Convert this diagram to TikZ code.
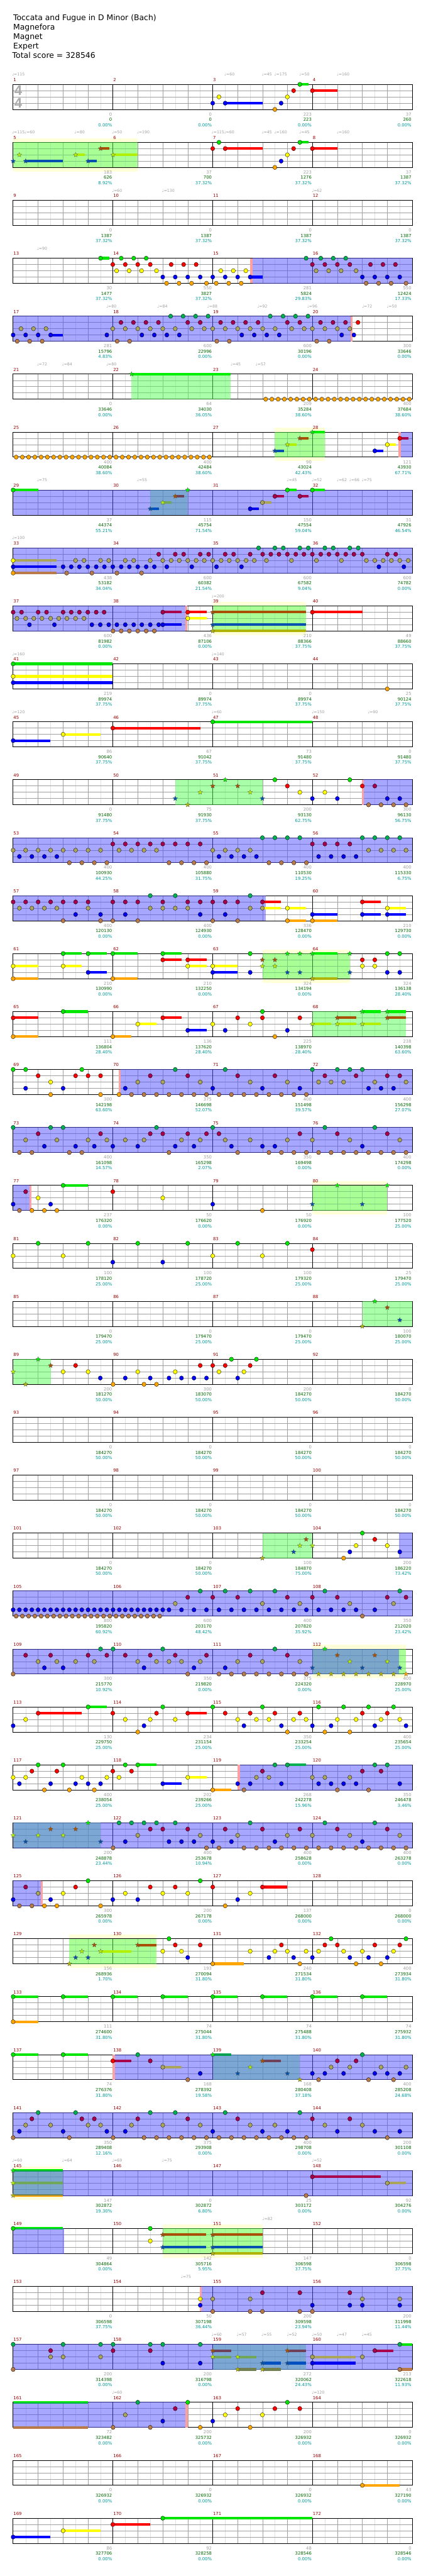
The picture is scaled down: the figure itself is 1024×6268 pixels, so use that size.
\documentclass[tikz,border=0pt]{standalone}
\usepackage{fontspec}
\setmainfont{DejaVu Sans}
\newfontfamily\tsfont{Liberation Sans}
\usetikzlibrary{shapes.geometric}
\definecolor{nG}{HTML}{00E600}\definecolor{nR}{HTML}{FF0000}\definecolor{nY}{HTML}{FFFF00}
\definecolor{nB}{HTML}{0000FF}\definecolor{nO}{HTML}{FFA500}
\definecolor{dG}{HTML}{00B050}\definecolor{dR}{HTML}{A8004C}\definecolor{dY}{HTML}{AAA55A}
\definecolor{dB}{HTML}{0000F0}\definecolor{dO}{HTML}{B87A48}
\definecolor{sG}{HTML}{00F000}\definecolor{sR}{HTML}{A85000}\definecolor{sY}{HTML}{B0F000}
\definecolor{sB}{HTML}{0050B0}\definecolor{sO}{HTML}{B0B400}
\definecolor{kG}{HTML}{00A050}\definecolor{kR}{HTML}{704058}\definecolor{kY}{HTML}{70A858}
\definecolor{kB}{HTML}{0050C0}\definecolor{kO}{HTML}{708050}
\definecolor{spc}{HTML}{55FF55}\definecolor{odc}{HTML}{5050FF}\definecolor{pkc}{HTML}{FFA0A0}
\definecolor{bandc}{HTML}{FFFFD8}\definecolor{mred}{HTML}{990000}\definecolor{sgc}{HTML}{A0A0A0}
\definecolor{snc}{HTML}{006600}\definecolor{spcc}{HTML}{009999}\definecolor{lanec}{HTML}{A0A0A0}
\definecolor{eighc}{HTML}{E0E0E0}\definecolor{tsc}{HTML}{ABABAB}
\tikzset{
 rowat/.style={shift={(0.2614,#1)},x=0.66122pt},
 starn/.style={star,star points=5,star point ratio=2.2,minimum size=12pt,inner sep=0pt,draw=black!65,line width=.4pt},
 mnum/.style={text=mred,font=\fontsize{10.5}{12}\selectfont,anchor=base west,inner sep=0pt},
 tmp/.style={text=sgc,font=\fontsize{9.5}{11}\selectfont,anchor=base west,inner sep=0pt},
 sg/.style={text=sgc,font=\fontsize{10.5}{12}\selectfont,anchor=base east,inner sep=0pt},
 sn/.style={text=snc,font=\fontsize{10.5}{12}\selectfont,anchor=base east,inner sep=0pt},
 spct/.style={text=spcc,font=\fontsize{10.5}{12}\selectfont,anchor=base east,inner sep=0pt},
 ttl/.style={font=\fontsize{19}{22}\selectfont,anchor=base west,inner sep=0pt},
 tsig/.style={text=tsc,font=\tsfont\bfseries\fontsize{34}{34}\selectfont,inner sep=0pt}
}
\newcommand\nt[3]{\foreach \xx in {#3}{\path[fill=#2,draw=black,line width=.5pt] (\xx,{15.25*#1}) ellipse[x radius=5pt,y radius=5.3pt];}}
\newcommand\stt[3]{\foreach \xx in {#3}{\node[starn,fill=#2] at (\xx,{15.25*#1}) {};}}
\newcommand\tlx[4]{\fill[#4] (#2,{15.25*#1-3.2}) rectangle (#3,{15.25*#1+3.2});}
\newcommand\grd{%
 \foreach \ga in {0,...,15}{\draw[eighc,line width=.8pt] ({93.94+91.875*\ga},0) -- ++(0,61);}
 \foreach \gb in {1,...,15}{\draw[lanec,line width=.9pt] ({48+91.875*\gb},0) -- ++(0,61);}
 \foreach \gc in {1,2,3}{\draw[lanec,line width=1pt] (48,{15.25*\gc}) -- (1518,{15.25*\gc});}
 \foreach \gd in {1,2,3}{\draw[black,line width=.9pt] ({48+367.5*\gd},0) -- ++(0,61);}
 \draw[black,line width=1.3pt] (48,0) rectangle (1518,61);}
\newcommand\SPz[2]{\fill[spc,opacity=.5] (#1,0) rectangle (#2,61);}
\newcommand\OD[2]{\fill[odc,opacity=.5] (#1,-.7) rectangle (#2,61.7);}
\newcommand\pk[1]{\fill[pkc] (#1,0) rectangle ({#1+8},61);}
\newcommand\band[2]{\fill[bandc] (#1,-10) rectangle (#2,71);}
\newcommand\mns[1]{\foreach \mi in {0,1,2,3}{\pgfmathtruncatemacro\mm{#1+\mi}\node[mnum] at ({48+367.5*\mi+1},-7.2) {\mm};}}
\newcommand\tp[2]{\node[tmp] at ({#1-4},-20.5) {♩=#2};}
\newcommand\sco[4]{\node[sg] at ({48+367.5*#1-3},76.5) {#2};\node[sn] at ({48+367.5*#1-3},89.8) {#3};\node[spct] at ({48+367.5*#1-3},102.8) {#4\%};}
\begin{document}
\begin{tikzpicture}[x=1pt,y=-1pt]
\useasboundingbox (0,0) rectangle (1024,6268);
\fill[white] (0,0) rectangle (1024,6268);
\node[ttl] at (32,49.3) {Toccata and Fugue in D Minor (Bach)};
\node[ttl] at (32,72) {Magnefora};
\node[ttl] at (32,95.3) {Magnet};
\node[ttl] at (32,118.7) {Expert};
\node[ttl] at (30,141.3) {Total score = 328546};
% row 0
\begin{scope}[rowat=205.3]
\grd
\node[tsig] at (67,15.5) {4};\node[tsig] at (67,45.5) {4};
\tlx{0}{1104}{1137}{nG}\tlx{1}{1150}{1242}{nR}\tlx{3}{829}{966}{nB}
\nt{0}{nG}{1104}\nt{1}{nR}{1081,1150}\nt{2}{nY}{806,1058}\nt{3}{nB}{783,829,1035}\nt{4}{nO}{1012}
\mns{1}
\tp{48}{115}\tp{830}{60}\tp{968}{45}\tp{1014}{175}\tp{1106}{50}\tp{1244}{160}
\sco{1}{0}{0}{0.00}\sco{2}{0}{0}{0.00}\sco{3}{223}{223}{0.00}\sco{4}{37}{260}{0.00}
\end{scope}
% row 1
\begin{scope}[rowat=346.3]
\band{48}{507}\grd\SPz{48}{507}
\tlx{1}{370}{402}{sR}\tlx{2}{278}{311}{sY}\tlx{2}{416}{507}{sY}\tlx{3}{94}{231}{sB}\tlx{3}{324}{356}{sB}
\tlx{0}{1104}{1137}{nG}\tlx{1}{829}{966}{nR}\tlx{1}{1150}{1242}{nR}
\stt{1}{sR}{370}\stt{2}{sY}{71,278,416}\stt{3}{sB}{48,94,324}
\nt{0}{nG}{806,1104}\nt{1}{nR}{783,829,1081,1150}\nt{2}{nY}{1058}\nt{3}{nB}{1035}\nt{4}{nO}{1012}
\mns{5}
\tp{48}{115}\tp{94}{60}\tp{278}{80}\tp{416}{50}\tp{508}{190}\tp{783}{115}\tp{829}{60}\tp{968}{45}\tp{1014}{160}\tp{1106}{45}\tp{1244}{160}
\sco{1}{183}{626}{8.92}\sco{2}{37}{700}{37.32}\sco{3}{223}{1276}{37.32}\sco{4}{37}{1387}{37.32}
\end{scope}
% row 2
\begin{scope}[rowat=487.3]
\grd\mns{9}
\tp{416}{60}\tp{600}{130}\tp{1152}{62}
\sco{1}{0}{1387}{37.32}\sco{2}{0}{1387}{37.32}\sco{3}{0}{1387}{37.32}\sco{4}{0}{1387}{37.32}
\end{scope}
% row 3
\begin{scope}[rowat=628.3]
\grd\OD{929}{1518}\pk{921}
\tlx{0}{370}{402}{nG}\tlx{3}{921}{966}{nB}
\nt{0}{nG}{370,446,492,538}\nt{1}{nR}{415,461,507,553,630,676,722}\nt{2}{nY}{429,475,521,576,813,859,905}
\nt{3}{nB}{599,645,691,737,783,829,875,921}\nt{4}{nO}{613,659,705,760,796,842,888}
\nt{0}{dG}{1127,1181,1227,1273}\nt{1}{dR}{1150,1196,1242,1288,1364,1410,1456}\nt{2}{dY}{1164,1210,1256,1311}
\nt{3}{dB}{1334,1380,1426,1472}\nt{4}{dO}{1348,1394,1440,1495}
\mns{13}\tp{140}{90}
\sco{1}{30}{1477}{37.32}\sco{2}{550}{3827}{37.32}\sco{3}{281}{5824}{29.83}\sco{4}{550}{12424}{17.33}
\end{scope}
% row 4
\begin{scope}[rowat=769.3]
\grd\OD{48}{1290}\pk{1290}
\tlx{3}{186}{231}{dB}
\nt{0}{dG}{628,674,720,766,995,1042,1088,1134}
\nt{1}{dR}{445,491,537,583,691,737,812,858,904,950,1058,1104,1180,1226,1272}
\nt{2}{dY}{77,123,169,415,461,507,553,599,645,706,752,783,829,875,921,967,1013,1074,1120,1150,1196,1242,1288}
\nt{3}{dB}{48,94,140,186,393,522,568,614,660,890,936,982,1028,1258}
\nt{4}{dO}{63,109,155,431,477,798,844,1166,1212}
\nt{1}{nR}{1318}\nt{3}{nB}{1303}
\mns{17}
\tp{395}{80}\tp{583}{84}\tp{767}{88}\tp{951}{92}\tp{1135}{96}\tp{1337}{72}\tp{1428}{50}
\sco{1}{281}{15796}{4.83}\sco{2}{600}{22996}{0.00}\sco{3}{600}{30196}{0.00}\sco{4}{300}{33646}{0.00}
\end{scope}
% row 5
\begin{scope}[rowat=910.3]
\grd\SPz{484}{850}
\tlx{0}{484}{850}{sG}\stt{0}{sG}{484}
\nt{4}{nO}{978,1001,1024,1047,1070,1093,1116,1139,1162,1185,1208,1231,1254,1277,1300,1323,1346,1369,1392,1415,1438,1461,1484,1507}
\mns{21}
\tp{140}{72}\tp{232}{84}\tp{395}{80}\tp{853}{45}\tp{945}{57}
\sco{1}{0}{33646}{0.00}\sco{2}{64}{34030}{36.05}\sco{3}{209}{35284}{38.60}\sco{4}{400}{37684}{38.60}
\end{scope}
% row 6
\begin{scope}[rowat=1051.3]
\band{1012}{1195}\grd\SPz{1012}{1195}\OD{1474}{1518}\pk{1468}
\tlx{0}{1150}{1195}{sG}\tlx{1}{1104}{1137}{sR}\tlx{2}{1058}{1091}{sY}\tlx{3}{1012}{1045}{sB}
\tlx{3}{1380}{1412}{nB}\tlx{2}{1426}{1458}{nY}\tlx{1}{1472}{1504}{dR}
\stt{0}{sG}{1150}\stt{1}{sR}{1104}\stt{2}{sY}{1058}\stt{3}{sB}{1012}
\nt{4}{nO}{59,82,105,128,151,174,197,220,243,266,289,312,335,358,381,404,427,450,473,496,519,542,565,588,611,634,657,680,703,726,749,771}
\nt{3}{nB}{1380}\nt{2}{nY}{1426}\nt{1}{nR}{1472}
\mns{25}
\sco{1}{400}{40084}{38.60}\sco{2}{400}{42484}{38.60}\sco{3}{90}{43024}{42.43}\sco{4}{121}{43930}{67.71}
\end{scope}
% row 7
\begin{scope}[rowat=1192.3]
\grd\SPz{553}{691}\OD{48}{1518}
\tlx{0}{48}{140}{nG}\tlx{3}{553}{586}{kB}\tlx{2}{599}{632}{kY}\tlx{1}{645}{678}{kR}
\tlx{0}{1058}{1091}{nG}\tlx{0}{1150}{1195}{nG}\tlx{1}{1012}{1045}{dR}\tlx{1}{1104}{1137}{dR}\tlx{2}{966}{999}{dY}\tlx{3}{921}{954}{dB}
\stt{3}{sB}{553}\stt{2}{sY}{599}\stt{1}{sR}{645}\stt{0}{sG}{691}
\nt{0}{nG}{48,1058,1150}\nt{1}{dR}{1012,1104}\nt{2}{dY}{966}\nt{3}{dB}{921}
\mns{29}
\tp{140}{75}\tp{508}{55}\tp{1060}{45}\tp{1152}{52}\tp{1244}{62}\tp{1290}{66}\tp{1336}{75}
\sco{1}{37}{44374}{55.21}\sco{2}{115}{45754}{71.54}\sco{3}{150}{47554}{59.04}\sco{4}{31}{47926}{46.54}
\end{scope}
% row 8
\begin{scope}[rowat=1333.3]
\grd\OD{48}{1518}
\tlx{2}{48}{207}{dY}\tlx{3}{48}{207}{dB}\tlx{4}{48}{207}{dO}
\nt{2}{nY}{48}\nt{4}{nO}{48}
\nt{2}{dY}{278,309,370,400,461,492,553,599,630,660,691,722,752,783,814,844,875,906,936,981,1073,1165,1257,1349,1380,1411,1441,1472,1503}
\nt{3}{dB}{48,232,262,292,323,354,384,415,446,476,507,538,568,614,706,797,889,1395,1487}
\nt{4}{dO}{245,338,430,521}
\nt{1}{dR}{584,645,676,737,768,829,860,921,967,997,1027,1058,1089,1119,1150,1181,1211,1242,1273,1303,1334,1426,1457}
\nt{0}{dG}{952,1012,1043,1104,1135,1196,1227,1288,1319}
\mns{33}\tp{48}{100}
\sco{1}{438}{53182}{34.04}\sco{2}{600}{60382}{21.54}\sco{3}{600}{67582}{9.04}\sco{4}{600}{74782}{0.00}
\end{scope}
% row 9
\begin{scope}[rowat=1474.3]
\band{783}{1127}\grd\SPz{783}{1127}\OD{48}{682}\pk{682}
\tlx{1}{599}{668}{dR}\tlx{3}{599}{668}{dB}\tlx{1}{691}{760}{nR}\tlx{2}{691}{760}{nY}
\tlx{1}{783}{1127}{sR}\tlx{3}{783}{1127}{sB}\tlx{4}{783}{1127}{sO}\tlx{1}{1150}{1334}{nR}
\nt{1}{dR}{48,79,140,171,232,262,292,323,354,383,599}
\nt{2}{dY}{62,94,124,154,186,216,246,278,309}
\nt{3}{dB}{108,200,338,369,400,430,461,492,522,553,584,599}
\nt{4}{dO}{416,446,476,507,538,568}
\nt{1}{nR}{691,1150}\nt{2}{nY}{691}
\stt{1}{sR}{783}\stt{3}{sB}{783}\stt{4}{sO}{783}
\mns{37}\tp{783}{200}
\sco{1}{600}{81982}{0.00}\sco{2}{436}{87106}{0.00}\sco{3}{210}{88366}{37.75}\sco{4}{49}{88660}{37.75}
\end{scope}
% row 10
\begin{scope}[rowat=1615.3]
\grd
\tlx{0}{48}{415}{nG}\tlx{2}{48}{415}{nY}\tlx{3}{48}{415}{nB}
\nt{0}{nG}{48}\nt{2}{nY}{48}\nt{3}{nB}{48}\nt{4}{nO}{1426}
\mns{41}\tp{48}{160}\tp{783}{140}
\sco{1}{219}{89974}{37.75}\sco{2}{0}{89974}{37.75}\sco{3}{0}{89974}{37.75}\sco{4}{25}{90124}{37.75}
\end{scope}
% row 11
\begin{scope}[rowat=1756.3]
\grd
\tlx{3}{48}{185}{nB}\tlx{2}{232}{369}{nY}\tlx{1}{415}{737}{nR}\tlx{0}{783}{1150}{nG}
\nt{3}{nB}{48}\nt{2}{nY}{232}\nt{1}{nR}{415}\nt{0}{nG}{783}
\mns{45}\tp{48}{120}\tp{783}{60}\tp{1152}{150}\tp{1358}{90}
\sco{1}{86}{90640}{37.75}\sco{2}{67}{91042}{37.75}\sco{3}{73}{91480}{37.75}\sco{4}{0}{91480}{37.75}
\end{scope}
% row 12
\begin{scope}[rowat=1897.3]
\grd\SPz{645}{966}\OD{1338}{1518}\pk{1332}
\stt{3}{sB}{645,966}\stt{4}{sO}{691}\stt{2}{sY}{737,921}\stt{1}{sR}{783,875}\stt{0}{sG}{829}
\nt{0}{nG}{1012,1288}\nt{1}{nR}{1058,1334}\nt{2}{nY}{1104,1196}\nt{3}{nB}{1150,1242}
\nt{1}{dR}{1380}\nt{3}{dB}{1426,1472}\nt{4}{dO}{1357,1403,1449,1495}
\mns{49}
\sco{1}{0}{91480}{37.75}\sco{2}{75}{91930}{37.75}\sco{3}{200}{93130}{62.75}\sco{4}{300}{96130}{56.75}
\end{scope}
% row 13
\begin{scope}[rowat=2038.3]
\grd\OD{48}{1518}
\nt{2}{dY}{48,94,140,186,232,278,324,370,438,484,530,576,783,829,875,921,1357,1403,1449,1495}
\nt{3}{dB}{71,117,163,209,806,852,898,944,1173,1219,1265,1311}
\nt{4}{dO}{255,301,347,393,622,668,714,760,990,1036,1082,1128}
\nt{1}{dR}{415,461,507,553,599,645,691,737,1150,1196,1242,1288}
\nt{0}{dG}{966,1012,1058,1104,1334,1380,1426,1472}
\mns{53}
\sco{1}{400}{100930}{44.25}\sco{2}{400}{105880}{31.75}\sco{3}{400}{110530}{19.25}\sco{4}{400}{115330}{6.75}
\end{scope}
% row 14
\begin{scope}[rowat=2179.3]
\grd\OD{48}{979}
\tlx{1}{966}{1035}{nR}\tlx{2}{966}{1035}{nY}\tlx{2}{1058}{1127}{nY}\tlx{2}{1426}{1494}{nY}\tlx{1}{1334}{1403}{nR}
\tlx{3}{1150}{1242}{nB}\tlx{3}{1334}{1403}{nB}\tlx{3}{1426}{1494}{nB}\tlx{4}{1058}{1127}{nO}\tlx{4}{1150}{1242}{nO}
\nt{1}{dR}{48,94,140,186,232,278,324,415,461,507,599,691,737,783,829,875,966}
\nt{0}{dG}{553,645,921}
\nt{2}{dY}{71,117,163,209,324,553,599,645,691,921,966}
\nt{3}{dB}{278,370,461,737,829}
\nt{4}{dO}{232,370,415,507,783,875}
\nt{2}{nY}{1058,1426}\nt{1}{nR}{1334}\nt{3}{nB}{1150,1334,1426}\nt{4}{nO}{1058,1150}
\mns{57}
\sco{1}{400}{120130}{0.00}\sco{2}{400}{124930}{0.00}\sco{3}{336}{128470}{0.00}\sco{4}{210}{129730}{0.00}
\end{scope}
% row 15
\begin{scope}[rowat=2320.3]
\band{966}{1288}\grd\SPz{966}{1288}
\tlx{0}{232}{300}{nG}\tlx{0}{324}{392}{nG}\tlx{0}{415}{507}{nG}\tlx{0}{599}{668}{nG}
\tlx{1}{599}{668}{nR}\tlx{1}{691}{760}{nR}
\tlx{2}{48}{140}{nY}\tlx{2}{232}{300}{nY}\tlx{2}{691}{760}{nY}\tlx{2}{783}{874}{nY}
\tlx{3}{324}{392}{nB}\tlx{3}{783}{874}{nB}\tlx{4}{48}{140}{nO}\tlx{4}{415}{507}{nO}
\tlx{0}{1150}{1242}{sG}\tlx{4}{1150}{1242}{sO}
\nt{0}{nG}{232,324,415,599,921,1426,1472}\nt{1}{nR}{599,691,1334,1380}\nt{2}{nY}{48,232,691,783,1334,1380}
\nt{3}{nB}{324,783,921,1426,1472}\nt{4}{nO}{48,415}
\stt{1}{sR}{966,1012}\stt{2}{sY}{966,1012}\stt{0}{sG}{1058,1104,1150,1288}\stt{3}{sB}{1058,1104,1288}\stt{4}{sO}{1150}
\mns{61}
\sco{1}{210}{130990}{0.00}\sco{2}{210}{132250}{0.00}\sco{3}{324}{134194}{0.00}\sco{4}{324}{136138}{28.40}
\end{scope}
% row 16
\begin{scope}[rowat=2461.3]
\grd\SPz{1150}{1494}
\tlx{0}{232}{323}{nG}\tlx{1}{48}{140}{nR}\tlx{1}{599}{668}{nR}\tlx{2}{507}{576}{nY}\tlx{3}{691}{760}{nB}
\tlx{4}{48}{140}{nO}\tlx{4}{415}{484}{nO}
\tlx{0}{1334}{1403}{sG}\tlx{0}{1426}{1494}{sG}\tlx{1}{1242}{1311}{sR}\tlx{1}{1426}{1494}{sR}
\tlx{2}{1150}{1219}{sY}\tlx{2}{1242}{1311}{sY}\tlx{2}{1334}{1403}{sY}
\nt{0}{nG}{232,966}\nt{1}{nR}{48,599,875,966,1104}\nt{2}{nY}{507,783,921}\nt{3}{nB}{691,829,1058}\nt{4}{nO}{48,415,1012}
\stt{0}{sG}{1334,1426}\stt{1}{sR}{1242,1426}\stt{2}{sY}{1150,1242,1334}
\mns{65}
\sco{1}{111}{136804}{28.40}\sco{2}{136}{137620}{28.40}\sco{3}{225}{138970}{28.40}\sco{4}{238}{140398}{63.60}
\end{scope}
% row 17
\begin{scope}[rowat=2602.3]
\grd\OD{442}{1518}\pk{436}
\nt{0}{nG}{48,94,301}\nt{1}{nR}{140,278,324,370}\nt{2}{nY}{186}\nt{3}{nB}{94,232}\nt{4}{nO}{186,370,438}
\nt{0}{dG}{645,829,1150,1242,1288,1334}
\nt{1}{dR}{553,691,875,1012,1196,1311,1426,1472}
\nt{2}{dY}{507,599,737,921,1058,1173,1219,1265,1380,1495}
\nt{3}{dB}{461,783,966,1104,1357,1403,1449}
\nt{4}{dO}{484,530,576,622,668,714,760,806,852,898,944,990,1036,1082,1128}
\mns{69}
\sco{1}{300}{142198}{63.60}\sco{2}{375}{146698}{52.07}\sco{3}{400}{151498}{39.57}\sco{4}{400}{156298}{27.07}
\end{scope}
% row 18
\begin{scope}[rowat=2743.3]
\grd\OD{48}{1518}
\nt{0}{dG}{48,186,232,576,783,1196,1380}
\nt{1}{dR}{140,370,553,599,691,760,806,1104,1242,1426}
\nt{2}{dY}{94,209,324,393,461,530,668,737,829,921,1058,1150,1288,1472}
\nt{3}{dB}{163,278,347,415,507,645,714,852,966,1012,1334}
\nt{4}{dO}{71,117,255,301,622,875,990,1036,1082,1128,1173,1219,1265,1311,1357,1403,1449,1495}
\mns{73}
\sco{1}{400}{161098}{14.57}\sco{2}{350}{165298}{2.07}\sco{3}{350}{169498}{0.00}\sco{4}{400}{174298}{0.00}
\end{scope}
% row 19
\begin{scope}[rowat=2884.3]
\band{1150}{1426}\grd\SPz{1150}{1426}\OD{48}{108}\pk{108}
\tlx{0}{232}{323}{nG}
\nt{1}{dR}{94}\nt{3}{dB}{48}\nt{4}{dO}{71}
\nt{4}{nO}{117,163,209,966}\nt{2}{nY}{140,599}\nt{3}{nB}{186,783}\nt{0}{nG}{232}\nt{1}{nR}{415}
\stt{0}{sG}{1242,1426}\stt{3}{sB}{1150,1334}
\mns{77}
\sco{1}{237}{176320}{0.00}\sco{2}{50}{176620}{0.00}\sco{3}{50}{176920}{0.00}\sco{4}{100}{177520}{25.00}
\end{scope}
% row 20
\begin{scope}[rowat=3025.3]
\grd
\nt{0}{nG}{140,324,507,691,875,1058}\nt{2}{nY}{48,232,783,966}\nt{3}{nB}{415,599}\nt{1}{nR}{1150}
\mns{81}
\sco{1}{100}{178120}{25.00}\sco{2}{100}{178720}{25.00}\sco{3}{100}{179320}{25.00}\sco{4}{25}{179470}{25.00}
\end{scope}
% row 21
\begin{scope}[rowat=3166.3]
\grd\SPz{1334}{1518}
\stt{4}{sO}{1334}\stt{0}{sG}{1380}\stt{1}{sR}{1426}\stt{3}{sB}{1472}
\mns{85}
\sco{1}{0}{179470}{25.00}\sco{2}{0}{179470}{25.00}\sco{3}{0}{179470}{25.00}\sco{4}{100}{180070}{25.00}
\end{scope}
% row 22
\begin{scope}[rowat=3307.3]
\grd\SPz{48}{186}
\stt{2}{sY}{48}\stt{4}{sO}{94}\stt{0}{sG}{140}\stt{1}{sR}{186}
\nt{1}{nR}{278,737,783,829,921}\nt{2}{nY}{232,324,507,645,806,898}
\nt{3}{nB}{369,461,553,622,668,714,760,875}\nt{4}{nO}{416,530,576}\nt{0}{nG}{852,944}
\mns{89}
\sco{1}{200}{181270}{50.00}\sco{2}{300}{183070}{50.00}\sco{3}{200}{184270}{50.00}\sco{4}{0}{184270}{50.00}
\end{scope}
% row 23
\begin{scope}[rowat=3448.3]
\grd\mns{93}
\sco{1}{0}{184270}{50.00}\sco{2}{0}{184270}{50.00}\sco{3}{0}{184270}{50.00}\sco{4}{0}{184270}{50.00}
\end{scope}
% row 24
\begin{scope}[rowat=3589.3]
\grd\mns{97}
\sco{1}{0}{184270}{50.00}\sco{2}{0}{184270}{50.00}\sco{3}{0}{184270}{50.00}\sco{4}{0}{184270}{50.00}
\end{scope}
% row 25
\begin{scope}[rowat=3730.3]
\grd\SPz{966}{1150}\OD{1470}{1518}
\stt{4}{sO}{966}\stt{3}{sB}{1081}\stt{2}{sY}{1104,1150}\stt{1}{sR}{1127}
\nt{4}{nO}{1265}\nt{3}{nB}{1288,1472}\nt{2}{nY}{1311,1426}\nt{0}{nG}{1334}\nt{1}{nR}{1380}
\mns{101}
\sco{1}{0}{184270}{50.00}\sco{2}{0}{184270}{50.00}\sco{3}{100}{184870}{75.00}\sco{4}{200}{186220}{73.42}
\end{scope}
% row 26
\begin{scope}[rowat=3871.3]
\grd\OD{48}{1518}
\nt{0}{dG}{737,829,921,1012,1196,1472}
\nt{1}{dR}{691,783,875,1058,1150,1242,1426,1495}
\nt{2}{dY}{645,966,1104,1288,1449}
\nt{3}{dB}{48,71,94,117,140,163,186,209,232,255,278,301,324,347,370,393,416,439,461,484,507,530,553,576,599,622,668,714,760,806,852,898,944,990,1036,1082,1128,1173,1219,1265,1311,1380}
\nt{4}{dO}{59,82,105,128,151,174,197,220,243,266,289,312,335,358,381,404,427,450,473,496,519,542,565,588,1334}
\mns{105}
\sco{1}{800}{195820}{60.92}\sco{2}{600}{203170}{48.42}\sco{3}{400}{207820}{35.92}\sco{4}{350}{212020}{23.42}
\end{scope}
% row 27
\begin{scope}[rowat=4012.3]
\band{1150}{1494}\grd\SPz{1150}{1494}\OD{48}{1470}
\nt{0}{dG}{370,416,599,1012}
\nt{1}{dR}{94,186,324,393,461,553,645,760,921,1058}
\nt{2}{dY}{140,209,278,347,507,576,622,668,737,875,966,1104}
\nt{3}{dB}{163,232,530,714,829}
\nt{4}{dO}{48,691,806,852,898,944,990,1036,1082,1128}
\stt{0}{sG}{1196}\stt{1}{sR}{1242,1380}\stt{2}{sY}{1288,1426}\stt{3}{sB}{1150,1334,1472}
\stt{4}{sO}{1173,1219,1265,1311,1357,1403,1449}\stt{4}{nO}{1495}
\mns{109}
\sco{1}{300}{215770}{10.92}\sco{2}{350}{219820}{0.00}\sco{3}{375}{224320}{0.00}\sco{4}{400}{228970}{25.00}
\end{scope}
% row 28
\begin{scope}[rowat=4153.3]
\grd
\tlx{1}{140}{300}{nR}\tlx{0}{324}{392}{nG}\tlx{1}{691}{760}{nR}
\nt{0}{nG}{324,599,783,966,1173,1265,1357,1449}
\nt{1}{nR}{140,415,576,691,829,921,1012,1104,1334,1426}
\nt{2}{nY}{94,461,553,645,875,944,990,1081,1127,1242,1311,1403,1472}
\nt{3}{nB}{48,530,898,1036,1150,1219,1380,1495}
\nt{4}{nO}{507,1058,1196,1288}
\mns{113}
\sco{1}{130}{229750}{25.00}\sco{2}{234}{231154}{25.00}\sco{3}{350}{233254}{25.00}\sco{4}{400}{235654}{25.00}
\end{scope}
% row 29
\begin{scope}[rowat=4294.3]
\grd\OD{881}{1518}\pk{875}
\tlx{0}{507}{576}{nG}\tlx{3}{599}{668}{nB}\tlx{2}{691}{760}{nY}\tlx{4}{783}{851}{nO}\tlx{0}{1058}{1127}{dG}
\nt{0}{nG}{140,232,461,507}\nt{1}{nR}{117,209,415,484}\nt{2}{nY}{48,94,301,393,438,691}
\nt{3}{nB}{71,186,278,324,370,599,875}\nt{4}{nO}{163,255,347,783}
\nt{0}{dG}{1012,1058,1380,1426}\nt{1}{dR}{966,1334,1403}\nt{2}{dY}{944,990,1150,1196,1288}
\nt{3}{dB}{921,1036,1173,1219,1265,1311,1472}\nt{4}{dO}{898,1242,1357}
\mns{117}
\sco{1}{400}{238054}{25.00}\sco{2}{202}{239266}{25.00}\sco{3}{268}{242278}{15.96}\sco{4}{350}{246478}{3.46}
\end{scope}
% row 30
\begin{scope}[rowat=4435.3]
\grd\SPz{48}{370}\OD{48}{1518}
\stt{2}{sY}{48,140,232}\stt{1}{sR}{186,278}\stt{0}{sG}{324}\stt{3}{sB}{94,370}
\nt{0}{dG}{438,484,530,576,645,921,1196,1380}
\nt{1}{dR}{553,599,691,829,966,1104,1242,1426}
\nt{2}{dY}{507,737,875,1058,1150,1288,1472}
\nt{3}{dB}{461,622,668,714,783,852,1012,1334}
\nt{4}{dO}{416,760,806,898,944,990,1036,1082,1128,1173,1219,1265,1311,1357,1403,1449,1495}
\mns{121}
\sco{1}{200}{248878}{23.44}\sco{2}{400}{253678}{10.94}\sco{3}{400}{258628}{0.00}\sco{4}{400}{263278}{0.00}
\end{scope}
% row 31
\begin{scope}[rowat=4576.3]
\grd\OD{48}{150}\pk{150}
\tlx{1}{966}{1058}{nR}
\nt{1}{dR}{94}\nt{2}{dY}{140}\nt{3}{dB}{48}\nt{4}{dO}{71,117}
\nt{4}{nO}{163,209,370,829}\nt{3}{nB}{186,415,507,875}\nt{2}{nY}{232,461,599,691,921}
\nt{1}{nR}{278,553,645,783,966}\nt{0}{nG}{324,737}
\mns{125}
\sco{1}{300}{265978}{0.00}\sco{2}{200}{267178}{0.00}\sco{3}{137}{268000}{0.00}\sco{4}{0}{268000}{0.00}
\end{scope}
% row 32
\begin{scope}[rowat=4717.3]
\band{255}{576}\grd\SPz{255}{576}
\tlx{2}{370}{484}{sY}\tlx{1}{507}{576}{sR}\tlx{4}{783}{897}{nO}
\stt{4}{sO}{255}\stt{3}{sB}{278,324}\stt{2}{sY}{301,370}\stt{1}{sR}{347,507}
\nt{2}{nY}{599,668,921,1012,1058,1127,1173,1265,1334,1449}
\nt{0}{nG}{622,1219,1495}
\nt{1}{nR}{645,737,1036,1196,1242,1380,1472}
\nt{3}{nB}{691,990,1081,1150,1288,1357,1426}
\nt{4}{nO}{783,1104,1311,1403}
\mns{129}
\sco{1}{156}{268936}{1.70}\sco{2}{193}{270094}{31.80}\sco{3}{240}{271534}{31.80}\sco{4}{400}{273934}{31.80}
\end{scope}
% row 33
\begin{scope}[rowat=4858.3]
\grd
\foreach \q in {48,232,415,599,783,966,1150,1334}{\tlx{0}{\q}{\q+92}{nG}}
\tlx{4}{48}{140}{nO}
\nt{0}{nG}{48,232,415,599,783,966,1150,1334}\nt{4}{nO}{48}
\mns{133}
\sco{1}{111}{274600}{31.80}\sco{2}{74}{275044}{31.80}\sco{3}{74}{275488}{31.80}\sco{4}{74}{275932}{31.80}
\end{scope}
% row 34
\begin{scope}[rowat=4999.3]
\grd\SPz{783}{1104}\OD{420}{1518}\pk{415}
\tlx{0}{48}{140}{nG}\tlx{0}{232}{323}{nG}\tlx{1}{415}{484}{dR}\tlx{2}{599}{668}{dY}\tlx{0}{783}{851}{kG}\tlx{1}{966}{1035}{kR}
\nt{0}{nG}{48,232}\nt{1}{nR}{415}
\nt{0}{dG}{507,1334}\nt{1}{dR}{553,1242,1311}\nt{2}{dY}{599,1219,1288,1403,1495}
\nt{3}{dB}{737,1150,1196,1265,1380,1426,1472}\nt{4}{dO}{691,1173,1357,1449}
\stt{0}{sG}{783}\stt{1}{sR}{966}\stt{2}{sY}{921}\stt{3}{sB}{875,1058}\stt{4}{sO}{1104}
\mns{137}
\sco{1}{74}{276376}{31.80}\sco{2}{168}{278392}{19.58}\sco{3}{168}{280408}{37.18}\sco{4}{400}{285208}{24.68}
\end{scope}
% row 35
\begin{scope}[rowat=5140.3]
\grd\OD{48}{1518}
\nt{0}{dG}{140,278,553,645,829,1104}
\nt{1}{dR}{117,301,347,507,691,875,1150,1288}
\nt{2}{dY}{94,186,324,370,484,599,737,921,1012,1196,1334}
\nt{3}{dB}{71,232,393,461,783,966,1058,1242,1380,1472}
\nt{4}{dO}{48,255,416,530,576,622,668,714,760,806,852,898,944,990,1036,1082,1128,1426}
\mns{141}
\sco{1}{350}{289408}{12.16}\sco{2}{375}{293908}{0.00}\sco{3}{400}{298708}{0.00}\sco{4}{200}{301108}{0.00}
\end{scope}
% row 36
\begin{scope}[rowat=5281.3]
\band{48}{232}\grd\SPz{48}{232}\OD{48}{1518}
\tlx{0}{48}{232}{kG}\fill[sG] (48,-3.2) rectangle (232,0);
\tlx{2}{48}{232}{kY}\tlx{4}{48}{232}{kO}\fill[nO] (48,{61}) rectangle (232,64);
\tlx{1}{1150}{1403}{dR}\tlx{2}{1426}{1494}{dY}
\stt{0}{sG}{48}\stt{2}{sY}{48}\stt{4}{sO}{48}
\nt{4}{dO}{1127}\nt{1}{dR}{1150}\nt{2}{dY}{1426}
\mns{145}
\tp{48}{60}\tp{232}{64}\tp{416}{69}\tp{600}{75}\tp{1152}{52}
\sco{1}{147}{302872}{19.30}\sco{2}{0}{302872}{6.80}\sco{3}{25}{303172}{0.00}\sco{4}{92}{304276}{0.00}
\end{scope}
% row 37
\begin{scope}[rowat=5422.3]
\band{599}{966}\grd\SPz{599}{966}\OD{48}{235}
\tlx{0}{48}{232}{dG}\fill[sG] (48,-3.2) rectangle (232,0);
\tlx{1}{599}{759}{sR}\tlx{1}{783}{966}{sR}\tlx{3}{599}{759}{sB}\tlx{3}{783}{966}{sB}\tlx{4}{783}{966}{sO}
\nt{0}{nG}{48,553}\nt{2}{nY}{553}
\stt{1}{sR}{599,783}\stt{3}{sB}{599,783}\stt{4}{sO}{783}
\mns{149}\tp{970}{82}
\sco{1}{49}{304864}{0.00}\sco{2}{142}{305716}{5.95}\sco{3}{147}{306598}{37.75}\sco{4}{0}{306598}{37.75}
\end{scope}
% row 38
\begin{scope}[rowat=5563.3]
\grd\OD{740}{1518}\pk{735}
\nt{2}{nY}{737}\nt{3}{nB}{737}
\nt{2}{dY}{783,921,1334,1472}\nt{1}{dR}{966,1104,1288}\nt{3}{dB}{1150,1288,1334,1472}\nt{4}{dO}{783,921,966,1104,1150}
\mns{153}\tp{670}{75}
\sco{1}{0}{306598}{37.75}\sco{2}{50}{307198}{36.44}\sco{3}{200}{309598}{23.94}\sco{4}{200}{311998}{11.44}
\end{scope}
% row 39
\begin{scope}[rowat=5704.3]
\grd\SPz{783}{1127}\OD{48}{1518}
\tlx{0}{1472}{1518}{nG}\tlx{1}{1380}{1448}{dR}\tlx{2}{1150}{1310}{dY}\tlx{3}{1150}{1310}{dB}\tlx{4}{1472}{1518}{dO}
\tlx{1}{783}{851}{kR}\tlx{1}{1058}{1127}{kR}\tlx{2}{783}{851}{kY}\tlx{2}{875}{943}{kY}
\tlx{3}{966}{1035}{kB}\tlx{3}{1058}{1127}{kB}\tlx{4}{875}{943}{kO}\tlx{4}{966}{1035}{kO}
\nt{0}{dG}{48,232,370,416,553,599,737,1472}\nt{1}{dR}{186,416,553,1380}\nt{2}{dY}{186,232,370,1150,1334}
\nt{3}{dB}{599,737,1150}\nt{4}{dO}{48,1472}
\stt{1}{sR}{783,1058}\stt{2}{sY}{783,875}\stt{3}{sB}{966,1058}\stt{4}{sO}{875,966}
\mns{157}
\tp{783}{60}\tp{875}{57}\tp{967}{55}\tp{1060}{52}\tp{1152}{50}\tp{1244}{47}\tp{1336}{45}
\sco{1}{200}{314398}{0.00}\sco{2}{200}{316798}{0.00}\sco{3}{272}{320062}{24.43}\sco{4}{213}{322618}{11.93}
\end{scope}
% row 40
\begin{scope}[rowat=5845.3]
\grd\OD{48}{683}\pk{683}
\tlx{0}{48}{323}{dG}\fill[sG] (48,-3.2) rectangle (323,0);\tlx{4}{48}{323}{dO}
\nt{0}{dG}{507}\nt{1}{dR}{645}\nt{2}{dY}{461}\nt{3}{dB}{599}\nt{4}{dO}{416,553}
\nt{0}{nG}{691,1058}\nt{1}{nR}{875,1012,1104}\nt{2}{nY}{829,966}\nt{3}{nB}{783}\nt{4}{nO}{737,921}
\mns{161}\tp{416}{60}\tp{1152}{120}
\sco{1}{72}{323482}{0.00}\sco{2}{200}{325732}{0.00}\sco{3}{200}{326932}{0.00}\sco{4}{0}{326932}{0.00}
\end{scope}
% row 41
\begin{scope}[rowat=5986.3]
\grd
\tlx{4}{1334}{1471}{nO}\nt{4}{nO}{1334}
\mns{165}
\sco{1}{0}{326932}{0.00}\sco{2}{0}{326932}{0.00}\sco{3}{0}{326932}{0.00}\sco{4}{43}{327190}{0.00}
\end{scope}
% row 42
\begin{scope}[rowat=6127.3]
\grd
\tlx{3}{48}{185}{nB}\tlx{2}{232}{369}{nY}\tlx{1}{415}{553}{nR}\tlx{0}{599}{1150}{nG}
\nt{3}{nB}{48}\nt{2}{nY}{232}\nt{1}{nR}{415}\nt{0}{nG}{599}
\mns{169}
\sco{1}{86}{327706}{0.00}\sco{2}{92}{328258}{0.00}\sco{3}{48}{328546}{0.00}\sco{4}{0}{328546}{0.00}
\end{scope}
\end{tikzpicture}
\end{document}
